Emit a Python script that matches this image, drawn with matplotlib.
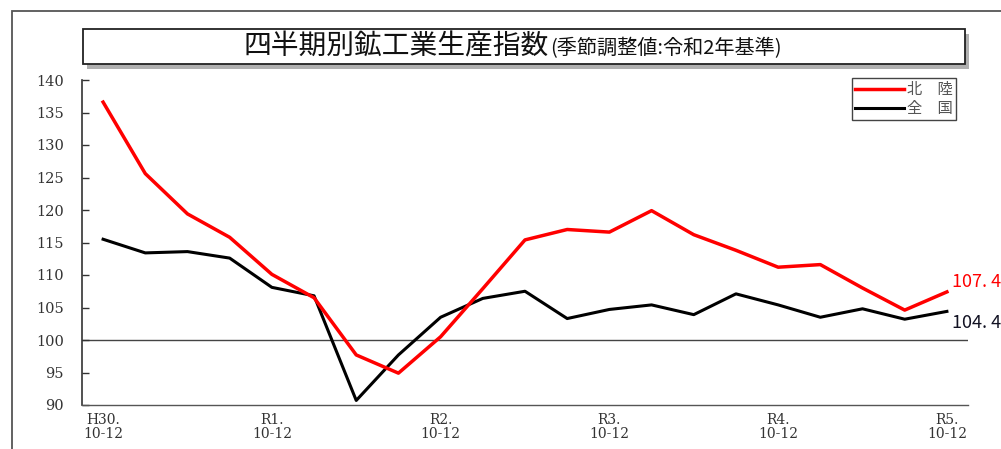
import matplotlib
matplotlib.use("Agg")
import matplotlib.pyplot as plt
from matplotlib.patches import Rectangle

# quarterly index, Oct-Dec 2018 (H30) to Oct-Dec 2023 (R5)
hokuriku = [136.6, 125.6, 119.4, 115.8, 110.1, 106.5, 97.7, 94.9, 100.5, 107.9,
            115.4, 117.0, 116.6, 119.9, 116.2, 113.8, 111.2, 111.6, 108.0, 104.6,
            107.4]
zenkoku = [115.5, 113.4, 113.6, 112.6, 108.1, 106.8, 90.7, 97.7, 103.5, 106.4,
           107.5, 103.3, 104.7, 105.4, 103.9, 107.1, 105.4, 103.5, 104.8, 103.2,
           104.4]
tick_pos = [0, 4, 8, 12, 16, 20]
tick_labels = ["H30.\n10-12", "R1.\n10-12", "R2.\n10-12",
               "R3.\n10-12", "R4.\n10-12", "R5.\n10-12"]
y_ticks = list(range(90, 141, 5))

JP = ["Noto Sans CJK JP", "DejaVu Sans"]
W, H = 1001, 449


def fx(x):
    return x / W


def fy(y):
    return 1 - y / H


fig = plt.figure(figsize=(W / 100, H / 100), dpi=100)

# outer frame, running off the right and bottom edges
fig.patches.append(Rectangle((fx(12), fy(470)), fx(1050), (470 - 11) / H,
                             transform=fig.transFigure, fill=False,
                             edgecolor="#555555", linewidth=1.3))

# title box with drop shadow
fig.patches.append(Rectangle((fx(87), fy(69)), fx(882), 35 / H,
                             transform=fig.transFigure, facecolor="#b0b0b0",
                             edgecolor="none"))
fig.patches.append(Rectangle((fx(83), fy(64)), fx(882), 35 / H,
                             transform=fig.transFigure, facecolor="white",
                             edgecolor="#222222", linewidth=1.3))
fig.text(fx(549), fy(54), "四半期別鉱工業生産指数", family=JP, fontsize=20,
         ha="right", va="baseline", color="#111111")
fig.text(fx(550), fy(54), "(季節調整値:令和2年基準)", family=JP, fontsize=14.5,
         ha="left", va="baseline", color="#111111")

ax = fig.add_axes([fx(82), fy(405), 886 / W, 325 / H])
x = list(range(len(hokuriku)))
ax.axhline(100, color="#444444", linewidth=1.0, zorder=1)
ax.plot(x, hokuriku, color="#ff0000", linewidth=2.5, label="北　陸", zorder=3)
ax.plot(x, zenkoku, color="black", linewidth=2.2, label="全　国", zorder=2)

ax.set_xlim(-0.5, 20.5)
ax.set_ylim(90, 140)
ax.set_yticks(y_ticks)
ax.set_yticklabels([str(v) for v in y_ticks], family="DejaVu Serif",
                   fontsize=10.5, color="#333333")
ax.set_xticks(tick_pos)
ax.set_xticklabels(tick_labels, family="DejaVu Serif", fontsize=10,
                   color="#333333", linespacing=0.95)
ax.tick_params(axis="y", direction="in", length=5, width=1, pad=13,
               color="#333333")
ax.tick_params(axis="x", length=0, pad=6)
for side in ("top", "right"):
    ax.spines[side].set_visible(False)
ax.spines["left"].set_color("#333333")
ax.spines["bottom"].set_color("#555555")
ax.spines["left"].set_linewidth(1.2)
ax.spines["bottom"].set_linewidth(1.0)

# latest values at the right end
for vals, col, dy in ((hokuriku, "#ff0000", 7), (zenkoku, "#111122", -8)):
    ax.annotate(f"{vals[-1]:.1f}".replace(".", ". "), (20, vals[-1]),
                xytext=(4, dy), textcoords="offset points", ha="left",
                va="center", family=JP, fontsize=13, color=col,
                annotation_clip=False)

leg = ax.legend(loc="upper left", bbox_to_anchor=(fx(852), fy(78)),
                bbox_transform=fig.transFigure, prop={"family": JP, "size": 11},
                handlelength=3.2, handletextpad=0.2, borderpad=0.2,
                labelspacing=0.15, fancybox=False, framealpha=1,
                edgecolor="#444444", borderaxespad=0)
for t in leg.get_texts():
    t.set_color("#555555")
leg.get_frame().set_linewidth(1.0)

fig.savefig("out.png", dpi=100)
